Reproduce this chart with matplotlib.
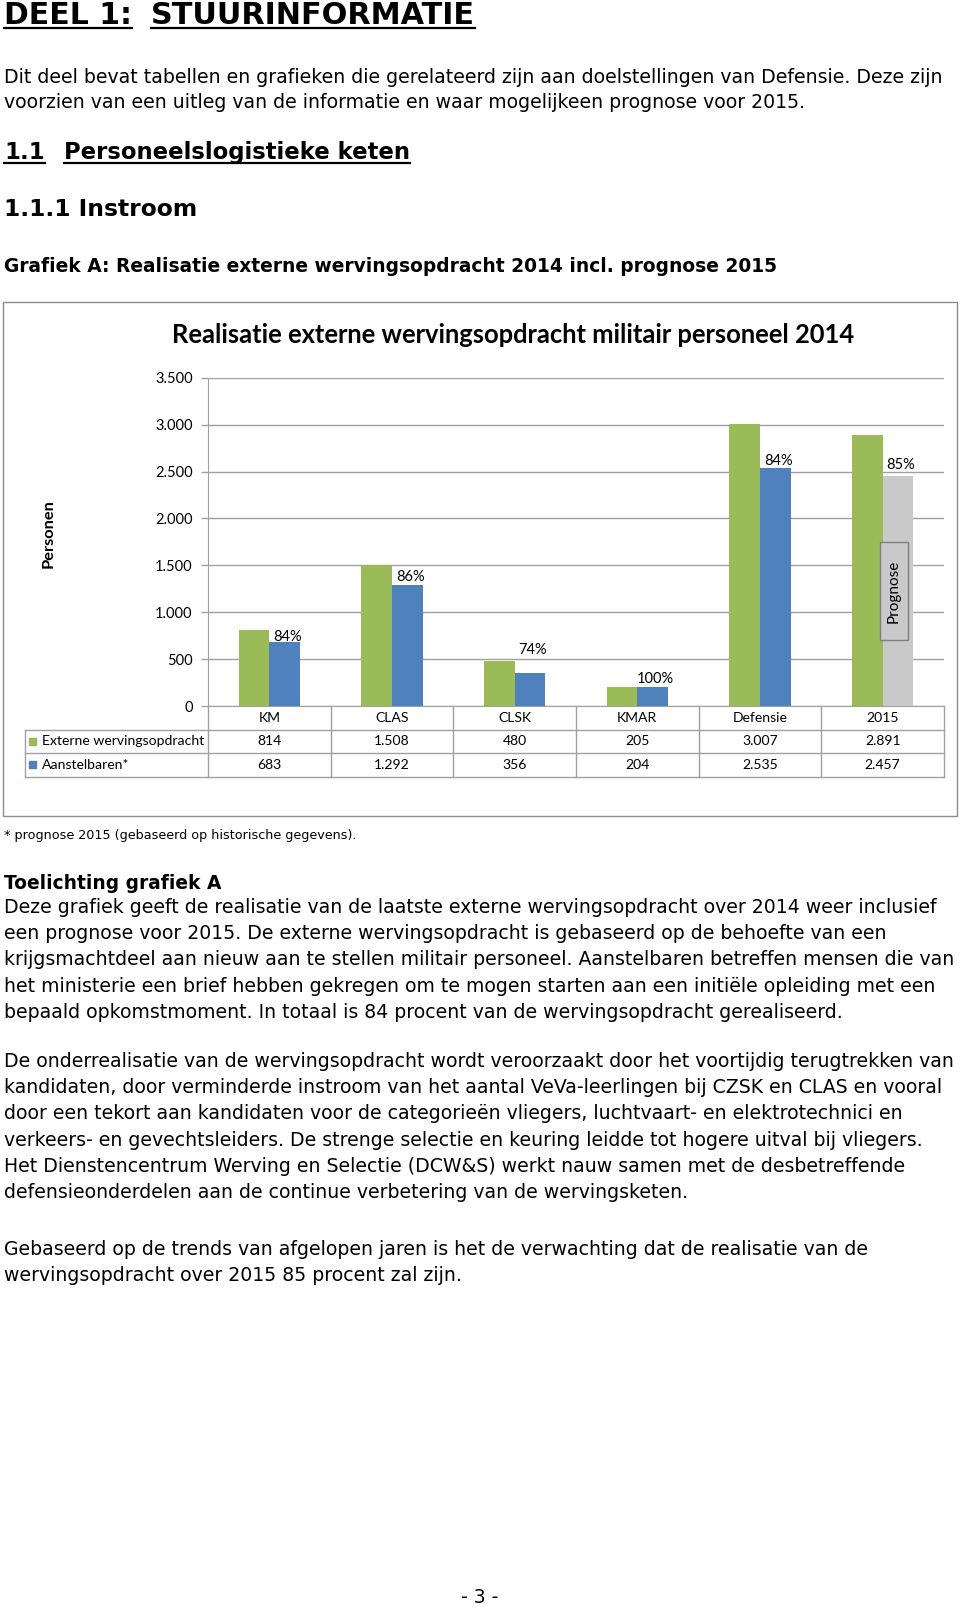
import matplotlib
matplotlib.use("Agg")
import matplotlib.pyplot as plt
from matplotlib.lines import Line2D
from matplotlib.patches import Rectangle
from matplotlib.ticker import FuncFormatter

categories = ["KM", "CLAS", "CLSK", "KMAR", "Defensie", "2015"]
extern = [814, 1508, 480, 205, 3007, 2891]
aanstel = [683, 1292, 356, 204, 2535, 2457]
yticks = [0, 500, 1000, 1500, 2000, 2500, 3000, 3500]

intro = ["Dit deel bevat tabellen en grafieken die gerelateerd zijn aan doelstellingen van Defensie. Deze zijn",
         "voorzien van een uitleg van de informatie en waar mogelijkeen prognose voor 2015."]
para1 = ["Deze grafiek geeft de realisatie van de laatste externe wervingsopdracht over 2014 weer inclusief",
         "een prognose voor 2015. De externe wervingsopdracht is gebaseerd op de behoefte van een",
         "krijgsmachtdeel aan nieuw aan te stellen militair personeel. Aanstelbaren betreffen mensen die van",
         "het ministerie een brief hebben gekregen om te mogen starten aan een initiële opleiding met een",
         "bepaald opkomstmoment. In totaal is 84 procent van de wervingsopdracht gerealiseerd."]
para2 = ["De onderrealisatie van de wervingsopdracht wordt veroorzaakt door het voortijdig terugtrekken van",
         "kandidaten, door verminderde instroom van het aantal VeVa-leerlingen bij CZSK en CLAS en vooral",
         "door een tekort aan kandidaten voor de categorieën vliegers, luchtvaart- en elektrotechnici en",
         "verkeers- en gevechtsleiders. De strenge selectie en keuring leidde tot hogere uitval bij vliegers.",
         "Het Dienstencentrum Werving en Selectie (DCW&S) werkt nauw samen met de desbetreffende",
         "defensieonderdelen aan de continue verbetering van de wervingsketen."]
para3 = ["Gebaseerd op de trends van afgelopen jaren is het de verwachting dat de realisatie van de",
         "wervingsopdracht over 2015 85 procent zal zijn."]

W, H = 960, 1609
GREEN, BLUE, GREY = "#9BBB59", "#4F81BD", "#C9C9C9"
LINE = "#A0A0A0"
body = "DejaVu Sans"
chartfont = "Lato"
BODY_SIZE = 13.6

fig = plt.figure(figsize=(W / 100, H / 100), dpi=100)


def fx(x):
    return x / W


def fy(y):
    return 1 - y / H


def txt(x, y, s, **kw):
    kw.setdefault("family", body)
    kw.setdefault("va", "baseline")
    return fig.text(fx(x), fy(y), s, **kw)


def hline(x0, x1, y, color=LINE, lw=1.0):
    fig.add_artist(Line2D([fx(x0), fx(x1)], [fy(y), fy(y)], color=color, lw=lw))


def vline(x, y0, y1, color=LINE, lw=1.0):
    fig.add_artist(Line2D([fx(x), fx(x)], [fy(y0), fy(y1)], color=color, lw=lw))


# page headings
underlined = []
underlined.append((txt(4, 24, "DEEL 1:", fontsize=21.5, weight="bold"), 28))
underlined.append((txt(151, 24, "STUURINFORMATIE", fontsize=21.8, weight="bold"), 28))
for i, line in enumerate(intro):
    txt(4, 83 + i * 24.5, line, fontsize=BODY_SIZE)
underlined.append((txt(4, 159, "1.1", fontsize=16.4, weight="bold"), 163))
underlined.append((txt(64, 159, "Personeelslogistieke keten", fontsize=16.4, weight="bold"), 163))
txt(4, 216, "1.1.1 Instroom", fontsize=16.8, weight="bold")
txt(4, 272, "Grafiek A: Realisatie externe wervingsopdracht 2014 incl. prognose 2015",
    fontsize=13.4, weight="bold")

fig.canvas.draw()
r = fig.canvas.get_renderer()
for t, uy in underlined:
    bb = t.get_window_extent(renderer=r)
    hline(bb.x0, bb.x1, uy, color="black", lw=1.6)

# chart frame
fig.add_artist(Rectangle((fx(3), fy(816)), fx(957) - fx(3), fy(302) - fy(816),
                         fill=False, edgecolor="#8C8C8C", lw=1.0))
fig.text(fx(513), fy(335), "Realisatie externe wervingsopdracht militair personeel 2014",
         family=chartfont, weight="bold", fontsize=18.4, ha="center", va="center")
fig.text(fx(48.5), fy(534), "Personen", family=chartfont, weight="bold", fontsize=11.8,
         rotation=90, ha="center", va="center")

ax = fig.add_axes([fx(208), fy(706), fx(944) - fx(208), fy(377.7) - fy(706)])
x = list(range(len(categories)))
bw = 0.25
ax.bar([i - bw / 2 for i in x], extern, width=bw, color=GREEN, zorder=3)
ax.bar([i + bw / 2 for i in x], aanstel, width=bw,
       color=[BLUE] * (len(categories) - 1) + [GREY], zorder=3)
ax.set_xlim(-0.5, len(categories) - 0.5)
ax.set_ylim(0, 3500)
ax.set_yticks(yticks)
ax.yaxis.set_major_formatter(FuncFormatter(lambda v, p: f"{int(v):,}".replace(",", ".")))
ax.set_xticks([])
ax.grid(axis="y", color=LINE, lw=1.0, zorder=0)
for s in ["top", "right"]:
    ax.spines[s].set_visible(False)
for s in ["left", "bottom"]:
    ax.spines[s].set_color(LINE)
ax.tick_params(axis="y", length=5, width=1, color=LINE, pad=6, labelsize=10.5)
for lab in ax.get_yticklabels():
    lab.set_family(chartfont)

# percentage labels above the second bar (lift in pixels)
lift = [-2, 1, 16, 1, 0, 4]
for i, (a, b) in enumerate(zip(extern, aanstel)):
    ax.annotate(f"{round(100 * b / a)}%", (i + bw / 2, b), xytext=(2, lift[i] * 0.72),
                textcoords="offset points", ha="center", va="bottom",
                family=chartfont, fontsize=10.5)

# prognose box
fig.add_artist(Rectangle((fx(880), fy(640)), fx(908) - fx(880), fy(542) - fy(640),
                         facecolor=GREY, edgecolor="#7F7F7F", lw=1.0))
fig.text(fx(894), fy(591), "Prognose", family=chartfont, fontsize=11,
         rotation=90, ha="center", va="center")

# data table under the axis
xpx = [ax.transData.transform((i, 0))[0] for i in x]
edges = [ax.transData.transform((i - 0.5, 0))[0] for i in x] + [ax.transData.transform((len(x) - 0.5, 0))[0]]
row_y = [706, 730, 753, 777]
for yy in row_y[1:]:
    hline(25, edges[-1], yy)
vline(25, row_y[1], row_y[3])
for e in edges:
    vline(e, row_y[0], row_y[3])
fmt = lambda v: f"{v:,}".replace(",", ".")
TS = 10.1
for i, c in enumerate(categories):
    fig.text(fx(xpx[i]), fy(718), c, family=chartfont, fontsize=TS, ha="center", va="center")
    fig.text(fx(xpx[i]), fy(741.5), fmt(extern[i]), family=chartfont, fontsize=TS, ha="center", va="center")
    fig.text(fx(xpx[i]), fy(765), fmt(aanstel[i]), family=chartfont, fontsize=TS, ha="center", va="center")
fig.add_artist(Rectangle((fx(29), fy(745)), fx(36) - fx(29), fy(738) - fy(745), color=GREEN))
fig.add_artist(Rectangle((fx(29), fy(768)), fx(36) - fx(29), fy(761) - fy(768), color=BLUE))
fig.text(fx(42), fy(741.5), "Externe wervingsopdracht", family=chartfont, fontsize=TS, va="center")
fig.text(fx(42), fy(765), "Aanstelbaren*", family=chartfont, fontsize=TS, va="center")

# text below the chart
txt(4, 839, "* prognose 2015 (gebaseerd op historische gegevens).", fontsize=9.2)
txt(4, 889, "Toelichting grafiek A", fontsize=13.4, weight="bold")
for i, line in enumerate(para1):
    txt(4, 913 + i * 26.2, line, fontsize=BODY_SIZE)
for i, line in enumerate(para2):
    txt(4, 1067 + i * 26.2, line, fontsize=BODY_SIZE)
for i, line in enumerate(para3):
    txt(4, 1255 + i * 26.2, line, fontsize=BODY_SIZE)
txt(480, 1603, "- 3 -", fontsize=BODY_SIZE, ha="center")

fig.savefig("out.png", dpi=100)
